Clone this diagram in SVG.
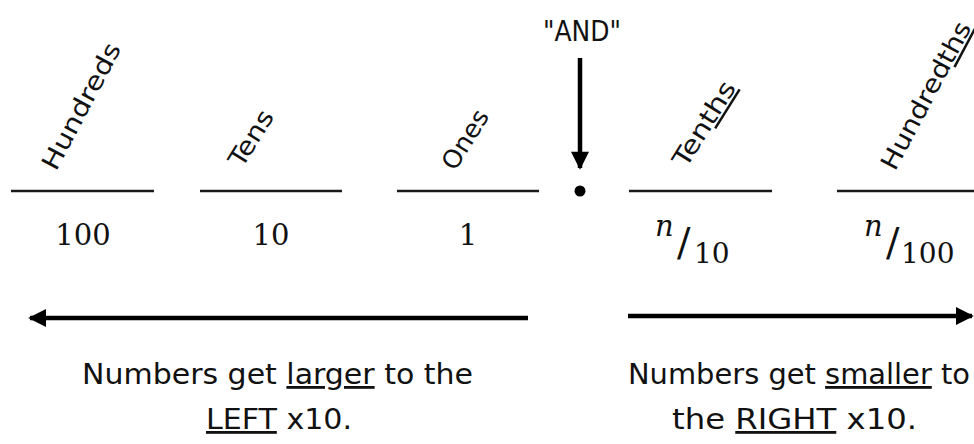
<svg xmlns="http://www.w3.org/2000/svg" width="974" height="444" viewBox="0 0 974 444">
<style>
.bg{fill:#ffffff}
.rule{stroke:#1a1a1a;stroke-width:2.5}
.lbl{font-family:"DejaVu Sans Condensed","DejaVu Sans","Liberation Sans",sans-serif;font-size:25px;fill:#111}
.num{font-family:"DejaVu Serif","Liberation Serif",serif;font-size:29px;fill:#111}
.it{font-family:"DejaVu Serif","Liberation Serif",serif;font-style:italic;font-size:29px;fill:#111}
.sl{font-family:"DejaVu Serif","Liberation Serif",serif;font-size:40px;fill:#111}
.sub{font-family:"DejaVu Serif","Liberation Serif",serif;font-size:28px;fill:#111}
.cap{font-family:"DejaVu Sans Condensed","DejaVu Sans","Liberation Sans",sans-serif;font-size:28px;fill:#111}
.arr{stroke:#000;stroke-width:4.5;fill:none}
</style>
<defs>
<marker id="ah" viewBox="0 0 10 10" refX="9" refY="5" markerWidth="4" markerHeight="4" orient="auto-start-reverse" markerUnits="strokeWidth">
<path d="M0,0 L10,5 L0,10 z" fill="#000"/>
</marker>
<marker id="ah2" viewBox="0 0 10 10" refX="9" refY="5" markerWidth="5" markerHeight="4" orient="auto" markerUnits="strokeWidth">
<path d="M0,0 L10,5 L0,10 z" fill="#000"/>
</marker>
</defs>
<rect class="bg" x="0" y="0" width="974" height="444"/>

<g id="hundreds">
<line class="rule" x1="11" y1="191" x2="154" y2="191"/>
<text class="lbl" transform="translate(56,172) rotate(-62)" textLength="140" lengthAdjust="spacingAndGlyphs">Hundreds</text>
<text class="num" x="83" y="245" text-anchor="middle">100</text>
</g>
<g id="tens">
<line class="rule" x1="200" y1="191" x2="342" y2="191"/>
<text class="lbl" transform="translate(242,169) rotate(-58)" textLength="62" lengthAdjust="spacingAndGlyphs">Tens</text>
<text class="num" x="271" y="245" text-anchor="middle">10</text>
</g>
<g id="ones">
<line class="rule" x1="397" y1="191" x2="539" y2="191"/>
<text class="lbl" transform="translate(455,172) rotate(-58)" textLength="66" lengthAdjust="spacingAndGlyphs">Ones</text>
<text class="num" x="468" y="245" text-anchor="middle">1</text>
</g>
<g id="and">
<text class="lbl" x="582" y="41" text-anchor="middle" style="font-size:28px" textLength="78" lengthAdjust="spacingAndGlyphs">"AND"</text>
<circle cx="580" cy="191" r="5.5" fill="#000"/>
</g>
<g id="tenths">
<line class="rule" x1="629" y1="191" x2="772" y2="191"/>
<text class="lbl" transform="translate(686,169) rotate(-58)" textLength="96" lengthAdjust="spacingAndGlyphs">Ten<tspan text-decoration="underline">ths</tspan></text>
<text class="it" x="655" y="236">n</text>
<text class="sl" x="677" y="256">/</text>
<text class="sub" x="694" y="263">10</text>
</g>
<g id="hundredths">
<line class="rule" x1="837" y1="191" x2="974" y2="191"/>
<text class="lbl" transform="translate(895,172) rotate(-62)" textLength="164" lengthAdjust="spacingAndGlyphs">Hundred<tspan text-decoration="underline">ths</tspan></text>
<text class="it" x="864" y="236">n</text>
<text class="sl" x="886" y="256">/</text>
<text class="sub" x="901" y="263">100</text>
</g>

<g id="connectors">
<line class="arr" x1="580" y1="58" x2="580" y2="168" marker-end="url(#ah2)"/>
<line class="arr" x1="528" y1="318" x2="30" y2="318" marker-end="url(#ah)"/>
<line class="arr" x1="628" y1="316" x2="972" y2="316" marker-end="url(#ah)"/>
</g>

<g id="caption-left">
<text class="cap" x="82" y="384" textLength="391" lengthAdjust="spacingAndGlyphs">Numbers get <tspan text-decoration="underline">larger</tspan> to the</text>
<text class="cap" x="206" y="429" textLength="146" lengthAdjust="spacingAndGlyphs"><tspan text-decoration="underline">LEFT</tspan> x10.</text>
</g>
<g id="caption-right">
<text class="cap" x="628" y="384" textLength="342" lengthAdjust="spacingAndGlyphs">Numbers get <tspan text-decoration="underline">smaller</tspan> to</text>
<text class="cap" x="672" y="429" textLength="245" lengthAdjust="spacingAndGlyphs">the <tspan text-decoration="underline">RIGHT</tspan> x10.</text>
</g>
</svg>
